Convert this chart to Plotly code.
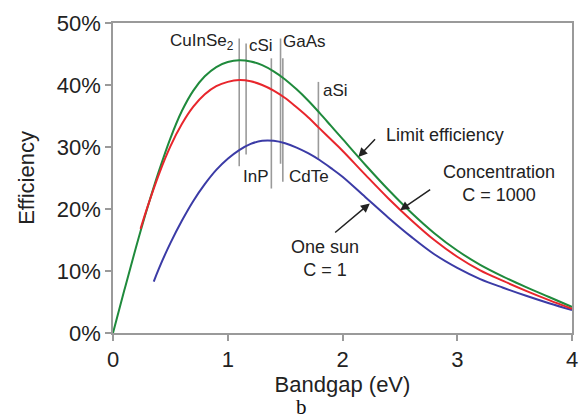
import plotly.graph_objects as go

# ---- data ----
bandgap_limit = [0, 0.1, 0.2, 0.3, 0.4, 0.5, 0.6, 0.7, 0.8, 0.9, 1.0, 1.1, 1.2, 1.3, 1.4, 1.5, 1.6, 1.7,
                 1.8, 1.9, 2.0, 2.2, 2.4, 2.6, 2.8, 3.0, 3.2, 3.4, 3.6, 3.8, 4.0]
eff_limit = [0, 7.0, 13.8, 20.2, 26.1, 31.4, 35.8, 39.1, 41.4, 42.9, 43.7, 44.0, 43.8, 43.2, 42.2, 40.9,
             39.3, 37.5, 35.5, 33.4, 31.3, 27.1, 23.1, 19.4, 16.1, 13.3, 11.0, 9.1, 7.4, 5.8, 4.2]

bandgap_conc = [0.24, 0.3, 0.4, 0.5, 0.6, 0.7, 0.8, 0.9, 1.0, 1.1, 1.2, 1.3, 1.4, 1.5, 1.6, 1.7, 1.8,
                1.9, 2.0, 2.2, 2.4, 2.6, 2.8, 3.0, 3.2, 3.4, 3.6, 3.8, 4.0]
eff_conc = [16.8, 20.3, 25.6, 30.1, 33.7, 36.5, 38.5, 39.8, 40.5, 40.8, 40.6, 40.0, 39.1, 37.9, 36.4,
            34.8, 33.0, 31.2, 29.4, 25.5, 21.7, 18.2, 15.0, 12.3, 10.1, 8.4, 6.8, 5.3, 3.9]

bandgap_one = [0.355, 0.4, 0.5, 0.6, 0.7, 0.8, 0.9, 1.0, 1.1, 1.2, 1.3, 1.4, 1.5, 1.6, 1.7, 1.8, 1.9,
               2.0, 2.2, 2.4, 2.6, 2.8, 3.0, 3.2, 3.4, 3.6, 3.8, 4.0]
eff_one = [8.3, 10.4, 14.5, 18.1, 21.3, 24.0, 26.3, 28.1, 29.5, 30.5, 31.0, 31.0, 30.6, 29.9, 29.0,
           27.9, 26.6, 25.2, 21.9, 18.6, 15.5, 12.7, 10.5, 8.7, 7.3, 6.0, 4.8, 3.7]

material_names = ["CuInSe<sub>2</sub>", "cSi", "InP", "GaAs", "CdTe", "aSi"]
material_gap = [1.10, 1.16, 1.38, 1.46, 1.48, 1.79]
marker_top = [47.5, 46.7, 44.3, 47.5, 44.3, 40.5]
marker_bottom = [26.9, 28.8, 23.3, 27.3, 24.4, 28.1]

x_ticks = [0, 1, 2, 3, 4]
y_ticks = [0, 10, 20, 30, 40, 50]
y_tick_labels = ["0%", "10%", "20%", "30%", "40%", "50%"]

FONT = "Liberation Sans, Arial, Helvetica, sans-serif"
TXT = "#222222"
GRAY = "#9a9a9a"

fig = go.Figure()

# material bandgap marker lines
vx, vy = [], []
for g, t, b in zip(material_gap, marker_top, marker_bottom):
    vx += [g, g, None]
    vy += [b, t, None]
fig.add_trace(go.Scatter(x=vx, y=vy, mode="lines", line=dict(color=GRAY, width=1.6),
                         hoverinfo="skip", showlegend=False))

fig.add_trace(go.Scatter(x=bandgap_one, y=eff_one, mode="lines", name="One sun C = 1",
                         line=dict(color="#3b3ba6", width=2, shape="spline", smoothing=1.0),
                         showlegend=False))
fig.add_trace(go.Scatter(x=bandgap_limit, y=eff_limit, mode="lines", name="Limit efficiency",
                         line=dict(color="#1f8a3c", width=2, shape="spline", smoothing=1.0),
                         showlegend=False))
fig.add_trace(go.Scatter(x=bandgap_conc, y=eff_conc, mode="lines", name="Concentration C = 1000",
                         line=dict(color="#e8262c", width=2, shape="spline", smoothing=1.0),
                         showlegend=False))

annotations = []
# material labels
label_pos = [
    (1.075, 47.0, "right"),
    (1.294, 46.4, "center"),
    (1.242, 25.2, "center"),
    (1.672, 47.0, "center"),
    (1.707, 25.2, "center"),
    (1.939, 39.1, "center"),
]
for name, (lx, ly, anc) in zip(material_names, label_pos):
    annotations.append(dict(x=lx, y=ly, xref="x", yref="y", text=name, showarrow=False,
                            xanchor=anc, yanchor="middle",
                            font=dict(family=FONT, size=17, color=TXT)))

# curve labels
curve_labels = [
    ("Limit efficiency", 2.36, 31.9, "left"),
    ("Concentration<br>C = 1000", 3.36, 24.1, "center"),
    ("One sun<br>C = 1", 1.85, 12.0, "center"),
]
for t, lx, ly, anc in curve_labels:
    annotations.append(dict(x=lx, y=ly, xref="x", yref="y", text=t, showarrow=False,
                            xanchor=anc, yanchor="middle", align="center",
                            font=dict(family=FONT, size=18, color=TXT)))

# arrows (tip, tail)
arrows = [
    (2.138, 28.4, 2.296, 31.5),
    (2.502, 19.8, 2.777, 23.3),
    (2.238, 20.9, 1.923, 16.0),
]
for x, y, ax, ay in arrows:
    annotations.append(dict(x=x, y=y, ax=ax, ay=ay, xref="x", yref="y", axref="x", ayref="y",
                            text="", showarrow=True, arrowhead=2, arrowsize=1.2,
                            arrowwidth=1.5, arrowcolor=TXT, standoff=0))

# caption
annotations.append(dict(x=0.41, y=-0.2815, xref="paper", yref="paper", text="b",
                        showarrow=False, xanchor="center", yanchor="bottom", borderpad=0,
                        font=dict(family="Liberation Serif, Times New Roman, serif", size=21, color="#111")))

fig.update_layout(
    width=587, height=420,
    margin=dict(l=113, r=9, t=23, b=87),
    paper_bgcolor="white", plot_bgcolor="white",
    font=dict(family=FONT, color=TXT),
    annotations=annotations,
    showlegend=False,
)
fig.update_xaxes(range=[0, 4], tickvals=x_ticks, ticks="outside", ticklen=6, tickwidth=1.5,
                 tickcolor=GRAY, showline=True, linecolor=GRAY, linewidth=1.5, mirror=True,
                 showgrid=False, zeroline=False, tickfont=dict(size=22, family=FONT, color=TXT),
                 title=dict(text="Bandgap (eV)", font=dict(size=22, family=FONT, color=TXT), standoff=0))
fig.update_yaxes(range=[0, 50], tickvals=y_ticks, ticktext=y_tick_labels, ticks="outside", ticklen=6,
                 tickwidth=1.5, tickcolor=GRAY, showline=True, linecolor=GRAY, linewidth=1.5,
                 mirror=True, showgrid=False, zeroline=False,
                 tickfont=dict(size=22, family=FONT, color=TXT),
                 title=dict(text="Efficiency", font=dict(size=22, family=FONT, color=TXT), standoff=16))

fig.write_html("out.html")
